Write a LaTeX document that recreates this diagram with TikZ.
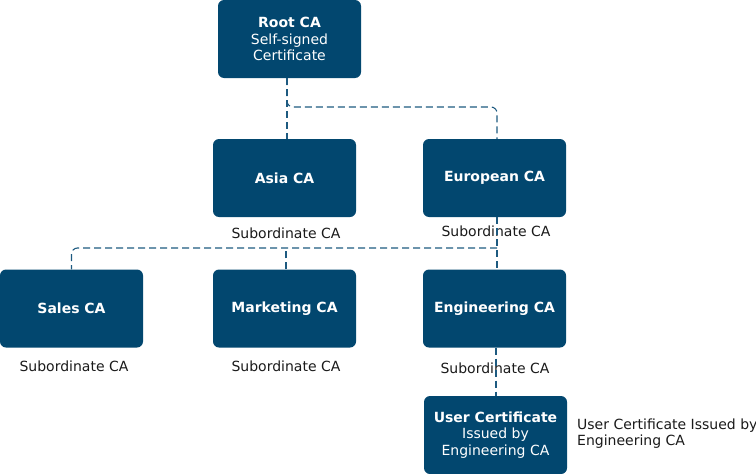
\documentclass[tikz,border=0pt]{standalone}
\usepackage{fontspec}
\setmainfont{DejaVu Sans}
\usepackage{xcolor}
\usepackage{tikz}
\definecolor{c1}{HTML}{02476F}
\definecolor{c2}{HTML}{1D5A80}
\definecolor{c3}{HTML}{1A1A1A}

\begin{document}
\begin{tikzpicture}[x=1pt, y=-1pt,
    ca/.style = {fill=c1, draw=none, rounded corners=6pt, text=white,
        minimum width=143pt, minimum height=78pt, align=center,
        font=\fontsize{14}{16.5}\selectfont, inner sep=0pt},
    sub/.style = {text=c3, font=\fontsize{14}{15.5}\selectfont, inner sep=0pt},
    link/.style = {c2, line width=1.1pt, dash pattern=on 7pt off 4pt, rounded corners=6pt}]
    \useasboundingbox (0, 0) rectangle (756, 474);
	\node [ca] (root) at (289.5, 39) {\textbf{Root CA}\\Self-signed\\Certificate};
	\node [ca] (asia) at (284.5, 178) {\textbf{Asia CA}};
	\node [ca] (euro) at (494.5, 178) {\textbf{European CA}};
	\node [ca] (sales) at (71.5, 308.5) {\textbf{Sales CA}};
	\node [ca] (mkt) at (284.5, 308.5) {\textbf{Marketing CA}};
	\node [ca] (eng) at (494.5, 308.5) {\textbf{Engineering CA}};
	\node [ca] (user) at (495.5, 435) {\textbf{User Certificate}\\Issued by\\Engineering CA};

	\node [sub] (asiasub) at (286, 233) {Subordinate CA};
	\node [sub] (eurosub) at (496, 231) {Subordinate CA};
	\node [sub] (salessub) at (74, 366) {Subordinate CA};
	\node [sub] (mktsub) at (286, 366) {Subordinate CA};
	\node [sub] (engsub) at (495, 368) {Subordinate CA};
	\node [sub, anchor=west, align=left] (usersub) at (577, 433.5) {User Certificate Issued by\\Engineering CA};

	\coordinate (rootfork) at (287, 107);
	\coordinate (eurofork) at (497, 248);
	\draw [link] (rootfork |- root.south) -- (rootfork |- asia.north);
	\draw [link] (rootfork |- root.south) -- (rootfork) -| (euro.north -| eurofork);
	\draw [link] (eurofork |- euro.south) -- (eurofork |- eng.north);
	\draw [link] (eurofork) -| (sales.north);
	\draw [link] (mkt.north -| 286, 0) -- (eurofork -| 286, 0);
	\draw [link] (eng.south -| 496, 0) -- (user.north -| 496, 0);
\end{tikzpicture}
\end{document}
